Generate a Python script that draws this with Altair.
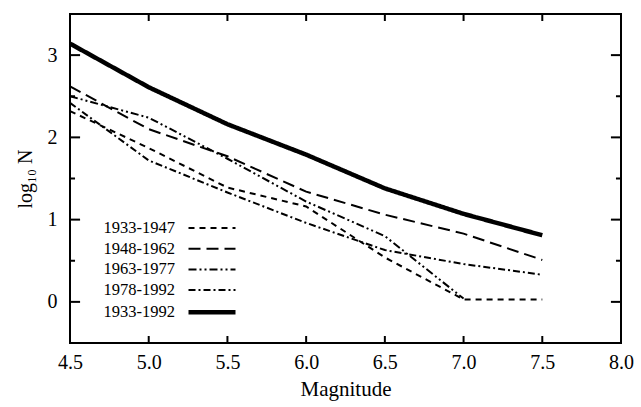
import altair as alt
import pandas as pd

# ---- data ----
magnitude = [4.5, 5.0, 5.5, 6.0, 6.5, 7.0, 7.5]
periods = ["1933-1947", "1948-1962", "1963-1977", "1978-1992", "1933-1992"]
log_n_1933_1947 = [2.32, 1.87, 1.39, 1.16, 0.54, 0.03, 0.03]
log_n_1948_1962 = [2.62, 2.10, 1.77, 1.34, 1.06, 0.83, 0.51]
log_n_1963_1977 = [2.50, 2.24, 1.74, 1.22, 0.80, 0.04, None]
log_n_1978_1992 = [2.42, 1.72, 1.33, 0.96, 0.63, 0.46, 0.33]
log_n_1933_1992 = [3.14, 2.61, 2.16, 1.79, 1.38, 1.07, 0.81]

x_tick_labels = [4.5, 5.0, 5.5, 6.0, 6.5, 7.0, 7.5, 8.0]
x_inner_ticks = [5.0, 5.5, 6.0, 6.5, 7.0, 7.5]
y_tick_labels = [0, 1, 2, 3]
y_minor_ticks = [0.5, 1.5, 2.5]

X_DOMAIN = [4.5, 8.0]
Y_DOMAIN = [-0.5, 3.5]
FONT = "Liberation Serif"

series = [log_n_1933_1947, log_n_1948_1962, log_n_1963_1977,
          log_n_1978_1992, log_n_1933_1992]
rows = []
for name, vals in zip(periods, series):
    for m, v in zip(magnitude, vals):
        if v is not None:
            rows.append({"magnitude": m, "log_n": v, "period": name})
df = pd.DataFrame(rows)

# inward tick marks (lengths expressed in data units)
xl = 0.085   # vertical length of x ticks
yl_major = 0.064
yl_minor = 0.032
tick_rows = []
for t in x_inner_ticks:
    tick_rows.append({"x": t, "x2": t, "y": Y_DOMAIN[0], "y2": Y_DOMAIN[0] + xl})
    tick_rows.append({"x": t, "x2": t, "y": Y_DOMAIN[1], "y2": Y_DOMAIN[1] - xl})
for t in y_tick_labels:
    tick_rows.append({"x": X_DOMAIN[0], "x2": X_DOMAIN[0] + yl_major, "y": t, "y2": t})
    tick_rows.append({"x": X_DOMAIN[1], "x2": X_DOMAIN[1] - yl_major, "y": t, "y2": t})
for t in y_minor_ticks:
    tick_rows.append({"x": X_DOMAIN[0], "x2": X_DOMAIN[0] + yl_minor, "y": t, "y2": t})
    tick_rows.append({"x": X_DOMAIN[1], "x2": X_DOMAIN[1] - yl_minor, "y": t, "y2": t})
ticks_df = pd.DataFrame(tick_rows)

x_scale = alt.Scale(domain=X_DOMAIN, nice=False, zero=False)
y_scale = alt.Scale(domain=Y_DOMAIN, nice=False, zero=False)

x_axis = alt.Axis(values=x_tick_labels, format=".1f", ticks=False, domain=False,
                  grid=False, labelFont=FONT, labelFontSize=20, labelPadding=9,
                  labelColor="black", title="Magnitude", titleFont=FONT,
                  titleFontSize=21, titleFontWeight="normal", titleColor="black",
                  titlePadding=6, labelFlush=False)
y_axis = alt.Axis(values=y_tick_labels, format="d", ticks=False, domain=False,
                  grid=False, labelFont=FONT, labelFontSize=20, labelPadding=13,
                  labelColor="black", title="log₁₀ N", titleFont=FONT,
                  titleFontSize=20, titleFontWeight="normal", titleColor="black",
                  titlePadding=12)

# a horizontal stroke 2.35x the symbol's nominal size, so rows stay compact
legend = alt.Legend(title=None, orient="none", legendX=129.5, legendY=203,
                    labelFont=FONT, labelFontSize=16.5, labelColor="black",
                    labelAlign="right", labelOffset={"expr": "-49.5"},
                    symbolType="M-2.35,0H2.35", symbolSize=400,
                    symbolStrokeColor="black", symbolFillColor="transparent",
                    rowPadding=0.7, padding=0)

dash_range = [[6, 5], [12, 6], [8, 3, 2, 3, 2, 3], [7, 3, 2, 3], [1, 0]]
width_range = [2, 2, 2, 2, 4.5]

lines = alt.Chart(df).mark_line(color="black").encode(
    x=alt.X("magnitude:Q", scale=x_scale, axis=x_axis),
    y=alt.Y("log_n:Q", scale=y_scale, axis=y_axis),
    strokeDash=alt.StrokeDash("period:N", scale=alt.Scale(domain=periods, range=dash_range),
                              legend=legend, sort=periods),
    strokeWidth=alt.StrokeWidth("period:N",
                                scale=alt.Scale(type="ordinal", domain=periods, range=width_range),
                                legend=legend, sort=periods),
)

tick_marks = alt.Chart(ticks_df).mark_rule(color="black", strokeWidth=2).encode(
    x=alt.X("x:Q", scale=x_scale, axis=x_axis),
    x2="x2:Q",
    y=alt.Y("y:Q", scale=y_scale, axis=y_axis),
    y2="y2:Q",
)

chart = alt.layer(lines, tick_marks).properties(
    width=551, height=329,
    autosize=alt.AutoSizeParams(type="none"),
    padding={"left": 70, "top": 14, "right": 20, "bottom": 64},
    background="white",
).configure_view(
    stroke="black", strokeWidth=2
).configure_axis(
    labelFont=FONT, titleFont=FONT
).configure_legend(
    labelFont=FONT
)

chart.save("out.html", embed_options={"renderer": "svg", "actions": False})
